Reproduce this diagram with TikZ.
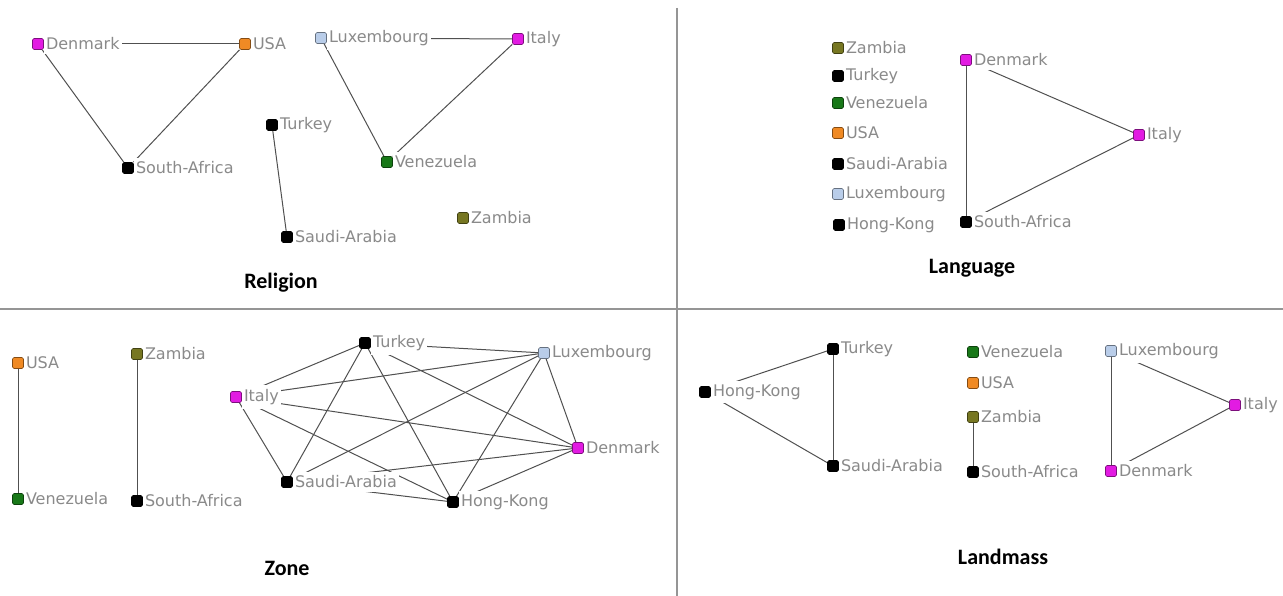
\documentclass[tikz,border=0pt]{standalone}
\usepackage{fontspec}
\newfontfamily\labfont{DejaVu Sans}
\newfontfamily\titfont{Carlito}
\pgfdeclarelayer{edges}
\pgfsetlayers{edges,main}
\definecolor{mag}{HTML}{E21BE2}
\definecolor{org}{HTML}{F08A24}
\definecolor{lbl}{HTML}{B9CDE9}
\definecolor{grn}{HTML}{187818}
\definecolor{olv}{HTML}{777722}
\definecolor{blk}{HTML}{000000}
\definecolor{labgray}{HTML}{8A8A8A}
\definecolor{edgegray}{HTML}{505050}
\definecolor{divgray}{HTML}{959595}
\begin{document}
\begin{tikzpicture}[x=1pt,y=-1pt,
  sq/.style={rectangle, rounded corners=1.5pt, minimum size=11pt, inner sep=0pt,
             fill=#1, draw=#1!55!black, line width=0.6pt},
  lab/.style={font=\labfont\fontsize{16}{18}\selectfont, text=labgray, fill=white,
              inner xsep=2pt, inner ysep=4pt, label distance=0pt},
  ttl/.style={font=\titfont\bfseries\fontsize{22}{26}\selectfont, text=black},
  edge/.style={draw=edgegray, line width=1pt},
  divider/.style={draw=divgray, line width=1.6pt}]
\useasboundingbox (0,0) rectangle (1283,596);
\draw[divider] (677,8) -- (677,596);
\draw[divider] (0,309) -- (1283,309);

% ---------- Religion ----------
\node[sq=mag, label={[lab]0:Denmark}] (rDen) at (38,44) {};
\node[sq=org, label={[lab]0:USA}] (rUSA) at (245,44) {};
\node[sq=blk, label={[lab]0:South-Africa}] (rSAf) at (128,168) {};
\node[sq=blk, label={[lab]0:Turkey}] (rTur) at (272,125) {};
\node[sq=blk, label={[lab]0:Saudi-Arabia}] (rSau) at (287,237) {};
\node[sq=lbl, label={[lab]0:Luxembourg}] (rLux) at (321,38) {};
\node[sq=mag, label={[lab]0:Italy}] (rIta) at (518,39) {};
\node[sq=grn, label={[lab]0:Venezuela}] (rVen) at (387,162) {};
\node[sq=olv, label={[lab]0:Zambia}] (rZam) at (463,218) {};
\node[ttl] (tRel) at (281,283) {Religion};

% ---------- Language ----------
\node[sq=olv, label={[lab]0:Zambia}] (lZam) at (838,48) {};
\node[sq=blk, label={[lab]0:Turkey}] (lTur) at (838,76) {};
\node[sq=grn, label={[lab]0:Venezuela}] (lVen) at (838,103) {};
\node[sq=org, label={[lab]0:USA}] (lUSA) at (838,133) {};
\node[sq=blk, label={[lab]0:Saudi-Arabia}] (lSau) at (838,164) {};
\node[sq=lbl, label={[lab]0:Luxembourg}] (lLux) at (838,194) {};
\node[sq=blk, label={[lab]0:Hong-Kong}] (lHK) at (839,225) {};
\node[sq=mag, label={[lab]0:Denmark}] (lDen) at (966,60) {};
\node[sq=blk, label={[lab]0:South-Africa}] (lSAf) at (966,222) {};
\node[sq=mag, label={[lab]0:Italy}] (lIta) at (1139,135) {};
\node[ttl] (tLan) at (972,268) {Language};

% ---------- Zone ----------
\node[sq=org, label={[lab]0:USA}] (zUSA) at (18,363) {};
\node[sq=grn, label={[lab]0:Venezuela}] (zVen) at (18,499) {};
\node[sq=olv, label={[lab]0:Zambia}] (zZam) at (137,354) {};
\node[sq=blk, label={[lab]0:South-Africa}] (zSAf) at (137,501) {};
\node[sq=mag, label={[lab]0:Italy}] (zIta) at (236,397) {};
\node[sq=blk, label={[lab]0:Saudi-Arabia}] (zSau) at (287,482) {};
\node[sq=blk, label={[lab]0:Turkey}] (zTur) at (365,343) {};
\node[sq=lbl, label={[lab]0:Luxembourg}] (zLux) at (544,353) {};
\node[sq=mag, label={[lab]0:Denmark}] (zDen) at (578,448) {};
\node[sq=blk, label={[lab]0:Hong-Kong}] (zHK) at (453,502) {};
\node[ttl] (tZon) at (287,568) {Zone};

% ---------- Landmass ----------
\node[sq=blk, label={[lab]0:Hong-Kong}] (mHK) at (705,392) {};
\node[sq=blk, label={[lab]0:Turkey}] (mTur) at (833,349) {};
\node[sq=blk, label={[lab]0:Saudi-Arabia}] (mSau) at (833,466) {};
\node[sq=grn, label={[lab]0:Venezuela}] (mVen) at (973,352) {};
\node[sq=org, label={[lab]0:USA}] (mUSA) at (973,383) {};
\node[sq=olv, label={[lab]0:Zambia}] (mZam) at (973,417) {};
\node[sq=blk, label={[lab]0:South-Africa}] (mSAf) at (973,472) {};
\node[sq=lbl, label={[lab]0:Luxembourg}] (mLux) at (1111,351) {};
\node[sq=mag, label={[lab]0:Denmark}] (mDen) at (1111,471) {};
\node[sq=mag, label={[lab]0:Italy}] (mIta) at (1235,405) {};
\node[ttl] (tLnd) at (1003,557) {Landmass};

\begin{pgfonlayer}{edges}
% Religion
\draw[edge] (rDen) -- (rUSA);
\draw[edge] (rDen) -- (rSAf);
\draw[edge] (rUSA) -- (rSAf);
\draw[edge] (rTur) -- (rSau);
\draw[edge] (rLux) -- (rIta);
\draw[edge] (rLux) -- (rVen);
\draw[edge] (rIta) -- (rVen);
% Language
\draw[edge] (lDen) -- (lSAf);
\draw[edge] (lDen) -- (lIta);
\draw[edge] (lSAf) -- (lIta);
% Zone
\draw[edge] (zUSA) -- (zVen);
\draw[edge] (zZam) -- (zSAf);
\foreach \a/\b in {zIta/zTur, zIta/zLux, zIta/zDen, zIta/zSau, zIta/zHK,
                   zTur/zLux, zTur/zDen, zTur/zSau, zTur/zHK,
                   zLux/zDen, zLux/zSau, zLux/zHK,
                   zDen/zSau, zDen/zHK, zSau/zHK}
  \draw[edge] (\a) -- (\b);
% Landmass
\draw[edge] (mHK) -- (mTur);
\draw[edge] (mHK) -- (mSau);
\draw[edge] (mTur) -- (mSau);
\draw[edge] (mZam) -- (mSAf);
\draw[edge] (mLux) -- (mDen);
\draw[edge] (mLux) -- (mIta);
\draw[edge] (mDen) -- (mIta);
\end{pgfonlayer}
\end{tikzpicture}
\end{document}
